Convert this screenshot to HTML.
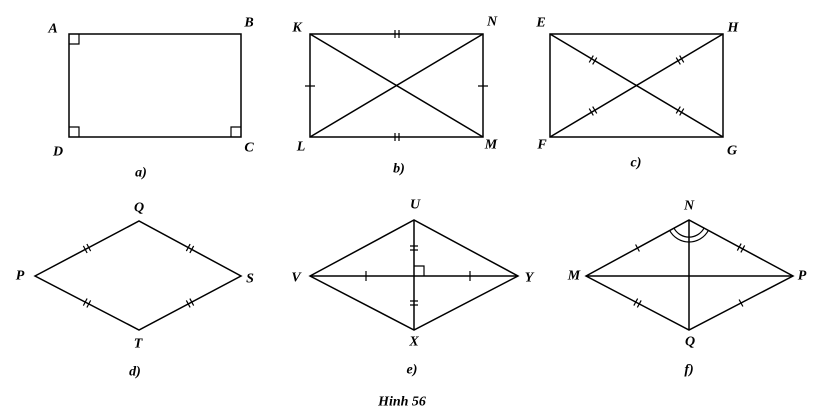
<!DOCTYPE html>
<html><head><meta charset="utf-8"><style>html,body{margin:0;padding:0;background:#fff}svg{display:block}text{font-family:"Liberation Serif",serif;font-style:italic;font-weight:bold;font-size:14px;fill:#000}</style></head>
<body>
<svg width="822" height="419" viewBox="0 0 822 419">
<g stroke="#000" stroke-width="1.5" fill="none">
<!-- a -->
<rect x="69" y="34" width="172" height="103"/>
<path d="M69 44H79V34M69 127H79V137M231 137V127H241" stroke-width="1.2"/>
<!-- b -->
<rect x="310" y="34" width="173" height="103"/>
<path d="M310 34L483 137M310 137L483 34"/>
<path d="M395 30V38M399 30V38M395 133V141M399 133V141M305 86H315M478 86H488" stroke-width="1.2"/>
<!-- c -->
<rect x="550" y="34" width="173" height="103"/>
<path d="M550 34L723 137M550 137L723 34"/>
<g stroke-width="1.2">
<g transform="translate(593,60) rotate(30.8)"><path d="M-2 -4V4M2 -4V4"/></g>
<g transform="translate(680,111) rotate(30.8)"><path d="M-2 -4V4M2 -4V4"/></g>
<g transform="translate(593,111) rotate(-30.8)"><path d="M-2 -4V4M2 -4V4"/></g>
<g transform="translate(680,60) rotate(-30.8)"><path d="M-2 -4V4M2 -4V4"/></g>
</g>
<!-- d -->
<path d="M35 276L139 221L241 276L139 330Z"/>
<g stroke-width="1.2">
<g transform="translate(87,248.5) rotate(-27.9)"><path d="M-2 -4V4M2 -4V4"/></g>
<g transform="translate(190,248.5) rotate(28.3)"><path d="M-2 -4V4M2 -4V4"/></g>
<g transform="translate(87,303) rotate(27.9)"><path d="M-2 -4V4M2 -4V4"/></g>
<g transform="translate(190,303) rotate(-28.3)"><path d="M-2 -4V4M2 -4V4"/></g>
</g>
<!-- e -->
<path d="M310 276L414 220L518 276L414 330Z"/>
<path d="M310 276H518M414 220V330"/>
<path d="M410 246H418M410 250H418M410 301H418M410 305H418M366 271V281M470 271V281M414 266H424V276" stroke-width="1.2"/>
<!-- f -->
<path d="M586 276L689 220L793 276L689 330Z"/>
<path d="M586 276H793M689 220V330"/>
<g stroke-width="1.2">
<g transform="translate(637.5,248) rotate(-28.5)"><path d="M0 -4V4"/></g>
<g transform="translate(741,303) rotate(-28.5)"><path d="M0 -4V4"/></g>
<g transform="translate(741,248) rotate(28.3)"><path d="M-2 -4V4M2 -4V4"/></g>
<g transform="translate(637.5,303) rotate(28.5)"><path d="M-2 -4V4M2 -4V4"/></g>
<path d="M704 228.1A17 17 0 0 1 674 228.1M708.4 230.4A22 22 0 0 1 669.6 230.4"/>
</g>
</g>
<g text-anchor="middle" dominant-baseline="central">
<text x="53" y="29">A</text><text x="249" y="23">B</text><text x="58" y="152">D</text><text x="249" y="148">C</text>
<text x="297" y="28">K</text><text x="492" y="22">N</text><text x="301" y="147">L</text><text x="491" y="145">M</text>
<text x="541" y="23">E</text><text x="733" y="28">H</text><text x="542" y="145">F</text><text x="732" y="151">G</text>
<text x="141" y="173">a)</text><text x="399" y="169">b)</text><text x="636" y="163">c)</text>
<text x="20" y="276">P</text><text x="139" y="208">Q</text><text x="250" y="279">S</text><text x="138" y="344">T</text>
<text x="415" y="205">U</text><text x="296" y="278">V</text><text x="529" y="278">Y</text><text x="414" y="342">X</text>
<text x="689" y="206">N</text><text x="574" y="276">M</text><text x="802" y="276">P</text><text x="690" y="342">Q</text>
<text x="135" y="372">d)</text><text x="412" y="370">e)</text><text x="689" y="370">f)</text>
<text x="402" y="402">Hinh 56</text>
</g>
</svg>
</body></html>
